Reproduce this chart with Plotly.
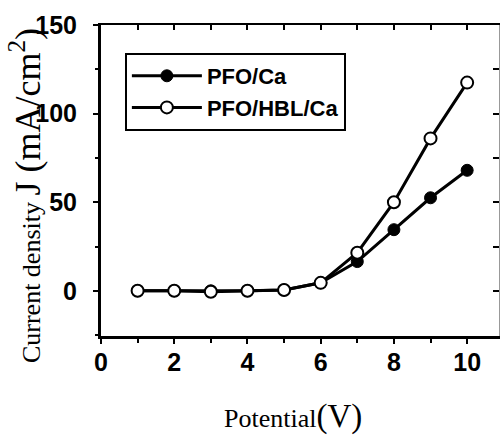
import plotly.graph_objects as go

potential = [1, 2, 3, 4, 5, 6, 7, 8, 9, 10]
pfo_ca = [0, 0, 0, 0, 0.5, 4.5, 16.5, 34.5, 52.5, 68]
pfo_hbl_ca = [0, 0, -0.5, 0, 0.5, 4.5, 21.5, 50, 86, 117.5]
names = ["PFO/Ca", "PFO/HBL/Ca"]
x_ticks = [0, 2, 4, 6, 8, 10]
y_ticks = [0, 50, 100, 150]

XR = [0, 10.87]
YR = [-25.5, 150]

fig = go.Figure()
fig.add_trace(go.Scatter(
    x=potential, y=pfo_ca, name=names[0], mode="lines+markers",
    line=dict(color="black", width=3),
    marker=dict(symbol="circle", size=12, color="black", line=dict(color="black", width=1)),
))
fig.add_trace(go.Scatter(
    x=potential, y=pfo_hbl_ca, name=names[1], mode="lines+markers",
    line=dict(color="black", width=3),
    marker=dict(symbol="circle", size=12, color="white", line=dict(color="black", width=2)),
))
# invisible trace to activate the mirror axes (top/right)
fig.add_trace(go.Scatter(
    x=potential, y=pfo_ca, xaxis="x2", yaxis="y2", mode="markers",
    marker=dict(opacity=0), showlegend=False, hoverinfo="skip",
))

tickfont = dict(family="Liberation Sans, Arial", size=25, color="black", weight="bold")

fig.update_layout(
    width=501, height=437,
    margin=dict(l=101, r=2, t=25, b=101, autoexpand=False),
    paper_bgcolor="white", plot_bgcolor="white",
    showlegend=True,
    legend=dict(
        x=0.06, y=0.91, xanchor="left", yanchor="top",
        bordercolor="black", borderwidth=2, bgcolor="white",
        font=dict(family="Liberation Sans, Arial", size=22, color="black", weight="bold"),
        itemwidth=70, tracegroupgap=0,
    ),
    xaxis=dict(
        range=XR, tickvals=x_ticks, ticktext=[str(v) for v in x_ticks],
        showgrid=False, zeroline=False, showline=True, linecolor="black", linewidth=3,
        ticks="outside", ticklen=5, tickwidth=2, tickcolor="black",
        minor=dict(dtick=1, tick0=0, ticks="outside", ticklen=4, tickwidth=2, tickcolor="black", showgrid=False),
        tickfont=tickfont, ticklabelstandoff=-3, automargin=False,
    ),
    yaxis=dict(
        range=YR, tickvals=y_ticks, ticktext=[str(v) for v in y_ticks],
        showgrid=False, zeroline=False, showline=True, linecolor="black", linewidth=3,
        ticks="outside", ticklen=5, tickwidth=2, tickcolor="black",
        minor=dict(dtick=25, tick0=0, ticks="outside", ticklen=3, tickwidth=2, tickcolor="black", showgrid=False),
        tickfont=tickfont, ticklabelstandoff=11, automargin=False,
    ),
    xaxis2=dict(
        range=XR, overlaying="x", side="top", dtick=1, tick0=0,
        showticklabels=False, showgrid=False, zeroline=False,
        showline=True, linecolor="black", linewidth=2,
        ticks="inside", ticklen=5, tickwidth=2, tickcolor="black", automargin=False,
    ),
    yaxis2=dict(
        range=YR, overlaying="y", side="right", dtick=25, tick0=0,
        showticklabels=False, showgrid=False, zeroline=False,
        showline=True, linecolor="#999", linewidth=1,
        ticks="inside", ticklen=6, tickwidth=2, tickcolor="black", automargin=False,
    ),
    annotations=[
        dict(
            text='Current density <span style="font-size:36px">J (mA/cm<sup>2</sup>)</span>',
            xref="paper", yref="paper", x=(25 - 101) / 398, y=0.45,
            xanchor="center", yanchor="middle",
            textangle=-90, showarrow=False,
            font=dict(family="Liberation Serif, Times New Roman", size=26, color="black"),
        ),
        dict(
            text='Potential<span style="font-size:33px">(V)</span>',
            xref="paper", yref="paper", x=0.482, y=-0.26,
            xanchor="center", yanchor="middle",
            showarrow=False,
            font=dict(family="Liberation Serif, Times New Roman", size=26, color="black"),
        ),
    ],
)

fig.write_html(
    "out.html",
    config={"displayModeBar": False},
    post_script="document.body.style.margin='0px';",
)
